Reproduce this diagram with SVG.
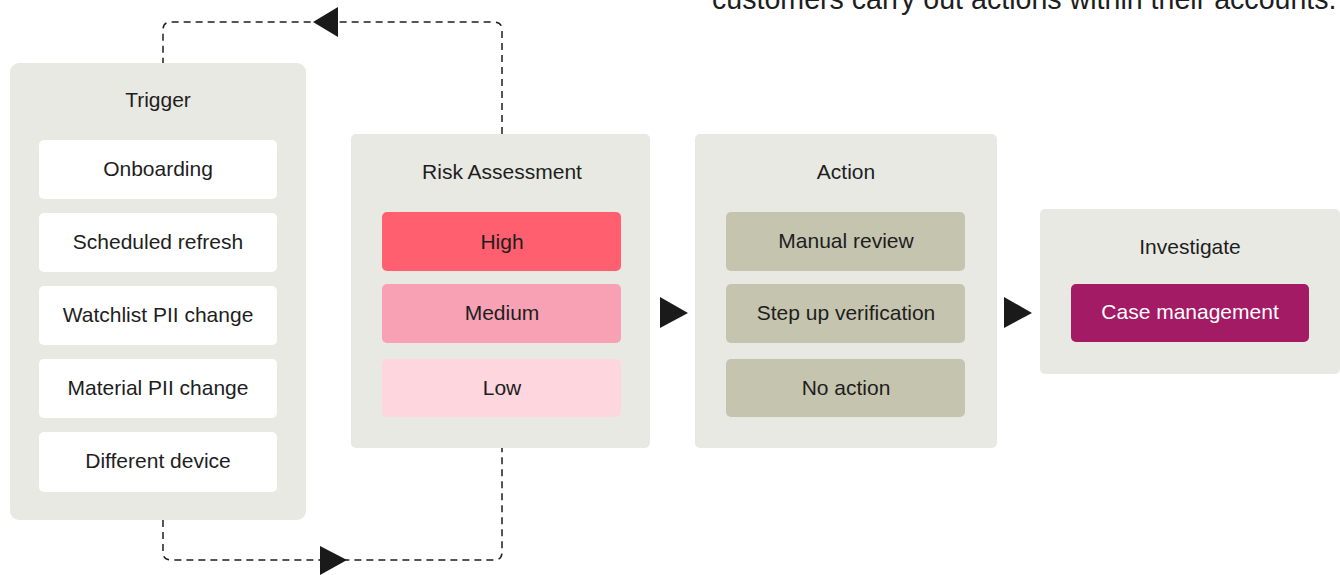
<svg xmlns="http://www.w3.org/2000/svg" width="1340" height="575" viewBox="0 0 1340 575">
<style>
.panel{fill:#E9E9E4}
.item{fill:#FFFFFF}
.act{fill:#C5C4AF}
.t{font-family:"Liberation Sans",Arial,sans-serif;font-size:21px;fill:#1E1E1E;text-anchor:middle}
.dash{fill:none;stroke:#1E1E1E;stroke-width:1.5;stroke-dasharray:7 5}
.tri{fill:#1A1A1A}
</style>
<rect width="1340" height="575" fill="#FFFFFF"/>
<text x="712" y="9" style="font-family:'Liberation Sans',Arial,sans-serif;font-size:28.6px;fill:#1E1E1E">customers carry out actions within their accounts.</text>
<g id="connectors">
<path class="dash" d="M502,134 V30 Q502,22 494,22 H171 Q163,22 163,30 V63"/>
<path class="dash" d="M163,520 V552 Q163,560 171,560 H494 Q502,560 502,552 V448"/>
<polygon class="tri" points="313,22 338,7 338,37"/>
<polygon class="tri" points="347,560 320,546 320,575"/>
<polygon class="tri" points="688,313 660,297 660,328"/>
<polygon class="tri" points="1032,313 1004,297 1004,328"/>
</g>
<g id="trigger">
<rect class="panel" x="10" y="63" width="296" height="457" rx="9"/>
<text class="t" x="158" y="107">Trigger</text>
<rect class="item" x="39" y="140" width="238" height="59" rx="5"/>
<text class="t" x="158" y="176">Onboarding</text>
<rect class="item" x="39" y="213" width="238" height="59" rx="5"/>
<text class="t" x="158" y="249">Scheduled refresh</text>
<rect class="item" x="39" y="286" width="238" height="59" rx="5"/>
<text class="t" x="158" y="322">Watchlist PII change</text>
<rect class="item" x="39" y="359" width="238" height="59" rx="5"/>
<text class="t" x="158" y="395">Material PII change</text>
<rect class="item" x="39" y="432" width="238" height="60" rx="5"/>
<text class="t" x="158" y="468">Different device</text>
</g>
<g id="risk">
<rect class="panel" x="351" y="134" width="299" height="314" rx="5"/>
<text class="t" x="502" y="179">Risk Assessment</text>
<rect x="382" y="212" width="239" height="59" rx="5" fill="#FF5F6E"/>
<text class="t" x="502" y="249">High</text>
<rect x="382" y="284" width="239" height="59" rx="5" fill="#F8A0B4"/>
<text class="t" x="502" y="320">Medium</text>
<rect x="382" y="359" width="239" height="58" rx="5" fill="#FDD6DE"/>
<text class="t" x="502" y="395">Low</text>
</g>
<g id="action">
<rect class="panel" x="695" y="134" width="302" height="314" rx="5"/>
<text class="t" x="846" y="179">Action</text>
<rect class="act" x="726" y="212" width="239" height="59" rx="5"/>
<text class="t" x="846" y="248">Manual review</text>
<rect class="act" x="726" y="284" width="239" height="59" rx="5"/>
<text class="t" x="846" y="320">Step up verification</text>
<rect class="act" x="726" y="359" width="239" height="58" rx="5"/>
<text class="t" x="846" y="395">No action</text>
</g>
<g id="investigate">
<rect class="panel" x="1040" y="209" width="300" height="165" rx="5"/>
<text class="t" x="1190" y="254">Investigate</text>
<rect x="1071" y="284" width="238" height="58" rx="5" fill="#A31B64"/>
<text class="t" x="1190" y="319" style="fill:#FFFFFF">Case management</text>
</g>
</svg>
